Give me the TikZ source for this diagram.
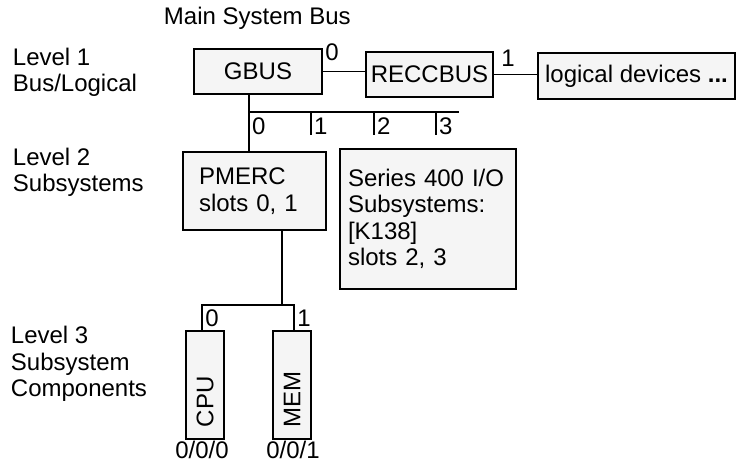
\documentclass[tikz,border=0pt]{standalone}
\usepackage{fontspec}
\setmainfont{Liberation Sans}
\definecolor{boxfill}{HTML}{F5F5F5}
\begin{document}
\begin{tikzpicture}[x=0.75pt,y=-0.75pt,
  font=\fontsize{18}{19.8}\selectfont,
  line width=1.4pt,
  box/.style={draw, fill=boxfill, inner sep=0pt, outer sep=0pt},
  lbl/.style={inner sep=0pt, outer sep=0pt},
  side/.style={anchor=west, align=left, inner sep=0pt}]
\useasboundingbox (0,0) rectangle (738,463);

% titles and level labels
\node[side] (title) at (163,18) {Main System Bus};
\node[side] (lev1) at (12,72) {Level 1\\Bus/Logical};
\node[side] (lev2) at (12,172) {Level 2\\Subsystems};
\node[side] (lev3) at (10,364) {Level 3\\Subsystem\\Components};

% level 1 boxes
\node[box, minimum width=128*0.75pt, minimum height=45*0.75pt] (gbus) at (258,71.5) {GBUS};
\node[box, minimum width=127*0.75pt, minimum height=45*0.75pt] (recc) at (429.5,74.5) {RECCBUS};
\node[box, minimum width=197*0.75pt, minimum height=46*0.75pt] (logic) at (636.5,76) {logical devices \textbf{...}};

\draw (gbus.east) -- (gbus.east -| recc.west);
\draw (recc.east) -- (recc.east -| logic.west);
\node[lbl] (l0) at (332,52) {0};
\node[lbl] (l1) at (508,58) {1};

% level 2 boxes
\node[box, minimum height=78*0.75pt, text width=111*0.75pt, inner xsep=16*0.75pt, align=left] (pmerc) at (254.5,191) {PMERC\\slots 0, 1};
\node[box, minimum height=140*0.75pt, text width=160*0.75pt, inner xsep=8*0.75pt, align=left] (series) at (428,219) {Series 400 I/O\\Subsystems:\\{[K138]}\\slots 2, 3};

% bus with slots
\coordinate (busL) at (249,112);
\coordinate (busR) at (459,112);
\coordinate (t1) at (311,112);
\coordinate (t2) at (374,112);
\coordinate (t3) at (436,112);
\coordinate (t1b) at (311,135);
\coordinate (t2b) at (374,135);
\coordinate (t3b) at (436,135);
\draw (gbus.south -| busL) -- (pmerc.north -| busL);
\draw (busL) -- (busR);
\draw (t1) -- (t1b);
\draw (t2) -- (t2b);
\draw (t3) -- (t3b);
\node[lbl, anchor=west] (s0) at (252,126) {0};
\node[lbl, anchor=west] (s1) at (314,126) {1};
\node[lbl, anchor=west] (s2) at (377,126) {2};
\node[lbl, anchor=west] (s3) at (439,126) {3};

% level 3 components
\node[box, rotate=90, minimum height=38*0.75pt, text width=84*0.75pt, inner xsep=12*0.75pt, align=left] (cpu) at (205,385) {CPU};
\node[box, rotate=90, minimum height=38*0.75pt, text width=84*0.75pt, inner xsep=12*0.75pt, align=left] (mem) at (292,385) {MEM};

\coordinate (jn) at (282,305);
\coordinate (jl) at (202,305);
\coordinate (jr) at (294,305);
\draw (pmerc.south -| jn) -- (jn);
\draw (jl |- cpu.east) -- (jl) -- (jr) -- (jr |- mem.east);
\node[lbl] (c0) at (212,318) {0};
\node[lbl] (c1) at (304,318) {1};
\node[lbl, anchor=base] (a0) at (202,458) {0/0/0};
\node[lbl, anchor=base] (a1) at (293,458) {0/0/1};
\end{tikzpicture}
\end{document}
